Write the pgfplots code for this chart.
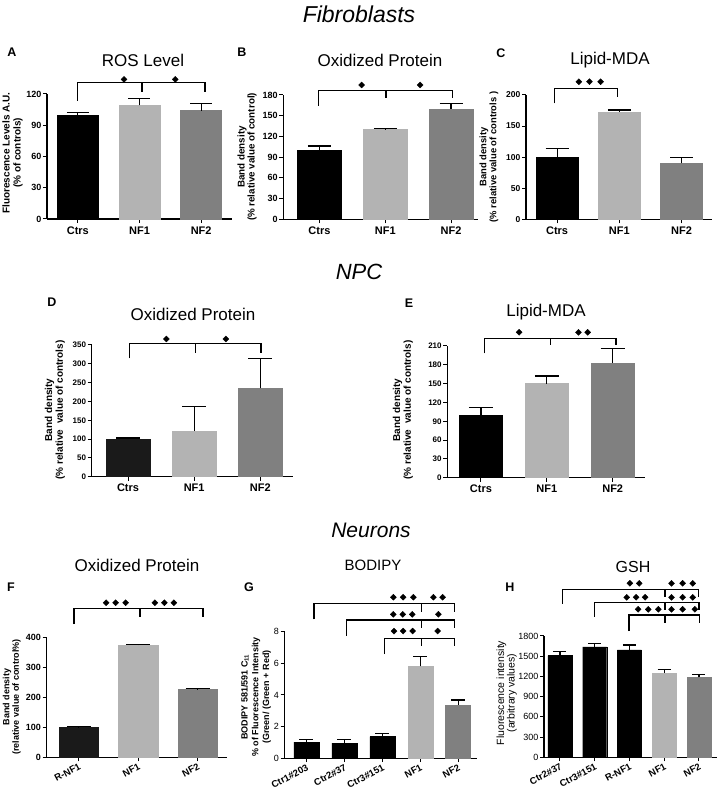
\documentclass[border=0pt]{standalone}
\usepackage{pgfplots}
\pgfplotsset{compat=1.18}
\usepackage{fontspec}
\setmainfont{Liberation Sans}
\definecolor{c0}{HTML}{000000}
\definecolor{cD}{HTML}{1A1A1A}
\definecolor{c1}{HTML}{B3B3B3}
\definecolor{c2}{HTML}{808080}
\newcommand\fs[2]{\fontsize{#1}{#2}\selectfont}
\pgfplotsset{
 gp/.style={scale only axis, anchor=south west, clip=false,
   axis x line*=bottom, axis y line*=left,
   axis line style={line width=1.2pt, black},
   tick style={line width=1pt, black},
   tick align=outside, major tick length=4pt,
   minor tick num=0,
   /pgf/number format/assume math mode=true,
   /pgf/number format/1000 sep={},
   scaled y ticks=false,
   yticklabel style={font=\bfseries\fs{9}{10}, inner sep=1.5pt},
   xticklabel style={font=\bfseries\fs{11}{12}},
   ymin=0},
 bb/.style={ybar, bar shift=0pt, draw=#1, fill=#1, line width=0.4pt},
 eb/.style={/pgfplots/error bars/y dir=plus, /pgfplots/error bars/y explicit,
   /pgfplots/error bars/error mark=|,
   /pgfplots/error bars/error bar style={line width=1.2pt, black},
   /pgfplots/error bars/error mark options={line width=1.2pt, black, mark size=#1}},
 brk/.style={sharp plot, mark=none, black, line width=1.3pt, line join=miter},
 dia/.style={only marks, mark=square*, mark size=2.1pt, mark options={rotate=45}, black},
 rot/.style={xticklabel style={rotate=28, anchor=north east, inner sep=1pt, font=\bfseries\fs{9.5}{10}}},
}
\begin{document}
\begin{tikzpicture}
\useasboundingbox (0,0) rectangle (718pt,792pt);
% ---------- A ----------
\begin{axis}[gp, at={(47pt,573pt)}, width=185pt, height=125pt,
  xmin=-0.5, xmax=2.5, ymax=120, ytick={0,30,...,120},
  xtick={0,1,2}, xticklabels={Ctrs,NF1,NF2}, bar width=41pt]
\addplot[bb=c0, eb=11pt] coordinates {(0,100) +- (0,2)};
\addplot[bb=c1, eb=11pt] coordinates {(1,109) +- (0,7)};
\addplot[bb=c2, eb=11pt] coordinates {(2,104) +- (0,7)};
\addplot[brk] coordinates {(-0.01,113.6) (-0.01,131) (2.06,131) (2.06,122)};
\addplot[brk] coordinates {(1.04,131) (1.04,122)};
\addplot[dia] coordinates {(0.75,134) (1.58,134)};
\end{axis}
% ---------- B ----------
\begin{axis}[gp, at={(283.3pt,572.7pt)}, width=194.7pt, height=124.3pt,
  xmin=-0.55, xmax=2.41, ymax=180, ytick={0,30,...,180},
  xtick={0,1,2}, xticklabels={Ctrs,NF1,NF2}, bar width=44pt]
\addplot[bb=c0, eb=11.5pt] coordinates {(0,100) +- (0,6)};
\addplot[bb=c1, eb=11.5pt] coordinates {(1,130) +- (0,1.7)};
\addplot[bb=c2, eb=11.5pt] coordinates {(2,160) +- (0,8)};
\addplot[brk] coordinates {(-0.02,164.6) (-0.02,187) (2.02,187) (2.02,175)};
\addplot[brk] coordinates {(1.01,187) (1.01,175)};
\addplot[dia] coordinates {(0.64,194.5) (1.53,194.5)};
\end{axis}
% ---------- C ----------
\begin{axis}[gp, at={(526pt,572.7pt)}, width=186pt, height=124.3pt,
  xmin=-0.5, xmax=2.49, ymax=200, ytick={0,50,...,200},
  yticklabel style={font=\bfseries\fs{8.5}{10}},
  xtick={0,1,2}, xticklabels={Ctrs,NF1,NF2}, bar width=42pt]
\addplot[bb=c0, eb=11.5pt] coordinates {(0,100) +- (0,14)};
\addplot[bb=c1, eb=11.5pt] coordinates {(1,173) +- (0,3)};
\addplot[bb=c2, eb=11.5pt] coordinates {(2,90) +- (0,10)};
\addplot[brk] coordinates {(-0.04,186.6) (-0.04,210.7) (0.97,210.7) (0.97,197)};
\addplot[dia] coordinates {(0.35,221.4) (0.52,221.4) (0.70,221.4)};
\end{axis}
% ---------- D ----------
\begin{axis}[gp, at={(91.7pt,315.3pt)}, width=201.6pt, height=131.7pt,
  xmin=-0.55, xmax=2.5, ymax=350, ytick={0,50,...,350},
  yticklabel style={font=\bfseries\fs{8}{9}},
  xtick={0,1,2}, xticklabels={Ctrs,NF1,NF2}, bar width=44pt]
\addplot[bb=cD, eb=12pt] coordinates {(0,100) +- (0,3)};
\addplot[bb=c1, eb=12pt] coordinates {(1,122) +- (0,65)};
\addplot[bb=c2, eb=12pt] coordinates {(2,235) +- (0,80)};
\addplot[brk] coordinates {(0.02,314.5) (0.02,354.4) (2.01,354.4) (2.01,330)};
\addplot[brk] coordinates {(1.02,354.4) (1.02,330)};
\addplot[dia] coordinates {(0.58,366) (1.48,366)};
\end{axis}
% ---------- E ----------
\begin{axis}[gp, at={(447.3pt,314.3pt)}, width=197.7pt, height=131.7pt,
  xmin=-0.51, xmax=2.49, ymax=210, ytick={0,30,...,210},
  yticklabel style={font=\bfseries\fs{8}{9}},
  xtick={0,1,2}, xticklabels={Ctrs,NF1,NF2}, bar width=43.5pt]
\addplot[bb=c0, eb=12pt] coordinates {(0,100) +- (0,12)};
\addplot[bb=c1, eb=12pt] coordinates {(1,150) +- (0,12)};
\addplot[bb=c2, eb=12pt] coordinates {(2,183) +- (0,23)};
\addplot[brk] coordinates {(0.05,198.3) (0.05,222.2) (2.05,222.2) (2.05,211.7)};
\addplot[brk] coordinates {(1.06,222.2) (1.06,211.7)};
\addplot[dia] coordinates {(0.58,231.8) (1.48,231.8) (1.62,231.8)};
\end{axis}
% ---------- F ----------
\begin{axis}[gp, rot, at={(46.7pt,34.7pt)}, width=180pt, height=119.6pt,
  xmin=-0.54, xmax=2.49, ymax=400, ytick={0,100,...,400},
  xtick={0,1,2}, xticklabels={R-NF1,NF1,NF2}, bar width=39.5pt]
\addplot[bb=cD, eb=12pt] coordinates {(0,100) +- (0,3)};
\addplot[bb=c1, eb=12pt] coordinates {(1,375) +- (0,3)};
\addplot[bb=c2, eb=12pt] coordinates {(2,227) +- (0,3)};
\addplot[brk] coordinates {(-0.08,445.7) (-0.08,498) (2.09,498) (2.09,470)};
\addplot[brk] coordinates {(1.03,498) (1.03,470)};
\addplot[dia] coordinates {(0.46,517) (0.62,517) (0.79,517) (1.28,517) (1.44,517) (1.60,517)};
\end{axis}
% ---------- G ----------
\begin{axis}[gp, rot, at={(284.5pt,33.8pt)}, width=192.2pt, height=126.5pt,
  xmin=-0.58, xmax=4.49, ymax=8, ytick={0,2,...,8},
  yticklabel style={font=\fs{9}{10}},
  xtick={0,1,2,3,4}, xticklabels={Ctr1\#203,Ctr2\#37,Ctr3\#151,NF1,NF2}, bar width=25pt]
\addplot[bb=c0, eb=7pt] coordinates {(0,1.01) +- (0,0.15) (1,0.95) +- (0,0.21) (2,1.37) +- (0,0.21)};
\addplot[bb=c1, eb=7pt] coordinates {(3,5.8) +- (0,0.62)};
\addplot[bb=c2, eb=7pt] coordinates {(4,3.37) +- (0,0.31)};
\addplot[brk] coordinates {(0.2,8.78) (0.2,9.8) (3.9,9.8) (3.9,9.27)};
\addplot[brk] coordinates {(3.03,9.8) (3.03,9.27)};
\addplot[brk] coordinates {(1.06,7.73) (1.06,8.74) (3.9,8.74) (3.9,8.21)};
\addplot[brk] coordinates {(3.03,8.74) (3.03,8.21)};
\addplot[brk] coordinates {(2.05,6.59) (2.05,7.58) (3.9,7.58) (3.9,7.09)};
\addplot[brk] coordinates {(3.03,7.58) (3.03,7.09)};
\addplot[dia] coordinates {(2.29,10.18) (2.55,10.18) (2.82,10.18) (3.35,10.18) (3.59,10.18)
  (2.29,9.1) (2.54,9.1) (2.79,9.1) (3.48,9.1)
  (2.31,8.04) (2.55,8.04) (2.80,8.04) (3.46,8.04)};
\end{axis}
% ---------- H ----------
\begin{axis}[gp, rot, at={(544pt,34.7pt)}, width=172.7pt, height=121.3pt,
  xmin=-0.46, xmax=4.51, ymax=1800, ytick={0,300,...,1800},
  yticklabel style={font=\fs{9}{10}},
  xtick={0,1,2,3,4}, xticklabels={Ctr2\#37,Ctr3\#151,R-NF1,NF1,NF2}, bar width=24pt]
\addplot[bb=c0, eb=6.5pt] coordinates {(0,1510) +- (0,55) (1,1640) +- (0,50) (2,1595) +- (0,70)};
\addplot[bb=c1, eb=6.5pt] coordinates {(3,1255) +- (0,48)};
\addplot[bb=c2, eb=6.5pt] coordinates {(4,1187) +- (0,45)};
\addplot[brk] coordinates {(0.08,2275) (0.08,2493) (3.98,2493) (3.98,2383)};
\addplot[brk] coordinates {(3.02,2493) (3.02,2383)};
\addplot[brk] coordinates {(1.0,2087) (1.0,2294) (4.0,2294) (4.0,2186)};
\addplot[brk] coordinates {(3.02,2294) (3.02,2186)};
\addplot[brk] coordinates {(1.99,1874) (1.99,2112) (4.02,2112) (4.02,1997)};
\addplot[brk] coordinates {(3.02,2112) (3.02,1997)};
\addplot[dia] coordinates {(2.01,2582) (2.28,2582) (3.21,2582) (3.53,2582) (3.82,2582)
  (1.92,2374) (2.19,2374) (2.45,2374) (3.21,2374) (3.53,2374) (3.82,2374)
  (2.25,2196) (2.54,2196) (2.83,2196) (3.21,2196) (3.53,2196) (3.88,2196)};
\end{axis}
% ---------- texts ----------
\node[font=\itshape\fs{23}{25}] at (359pt,778pt) {Fibroblasts};
\node[font=\itshape\fs{22}{24}] at (359pt,520pt) {NPC};
\node[font=\itshape\fs{21}{24}] at (371pt,262pt) {Neurons};
\begin{scope}[every node/.style={font=\fs{17}{19}}]
\node at (143pt,732pt) {ROS Level};
\node at (380pt,732pt) {Oxidized Protein};
\node at (610pt,732pt) {Lipid-MDA};
\node at (193pt,478pt) {Oxidized Protein};
\node at (546pt,480pt) {Lipid-MDA};
\node at (137pt,227pt) {Oxidized Protein};
\node[font=\fs{15}{17}] at (373pt,227pt) {BODIPY};
\node[font=\fs{16}{18}] at (633pt,225pt) {GSH};
\end{scope}
\begin{scope}[every node/.style={font=\bfseries\fs{12.5}{14}}]
\node at (12pt,740pt) {A};
\node at (242pt,740pt) {B};
\node at (501pt,739pt) {C};
\node at (52pt,490pt) {D};
\node at (409pt,489pt) {E};
\node at (11pt,205pt) {F};
\node at (249pt,205pt) {G};
\node at (510pt,205pt) {H};
\end{scope}
\begin{scope}[every node/.style={rotate=90, align=center, inner sep=0pt}]
\node[font=\bfseries\fs{10}{11}] at (12.5pt,639pt) {Fluorescence Levels A.U.\\(\% of controls)};
\node[font=\bfseries\fs{9.8}{10}] at (247pt,635pt) {Band density\\(\% relative value of control)};
\node[font=\bfseries\fs{9.4}{10}] at (489pt,635pt) {Band density\\(\% relative value of controls )};
\node[font=\bfseries\fs{10}{10.7}] at (55pt,382pt) {Band density\\(\% relative\ \ value of controls)};
\node[font=\bfseries\fs{10}{10.7}] at (403pt,382pt) {Band density\\(\% relative\ \ value of controls)};
\node[font=\bfseries\fs{9}{9.5}] at (11.7pt,95pt) {Band density\\(relative value of control\%)};
\node[font=\bfseries\fs{9}{10.8}] at (256pt,95pt) {BODIPY 581/591 C\textsubscript{11}\\\% of Fluorescence Intensity\\(Green/ (Green + Red)};
\node[font=\fs{10.5}{10.5}] at (506.7pt,99pt) {Fluorescence intensity\\(arbitrary values)};
\end{scope}
\end{tikzpicture}
\end{document}
